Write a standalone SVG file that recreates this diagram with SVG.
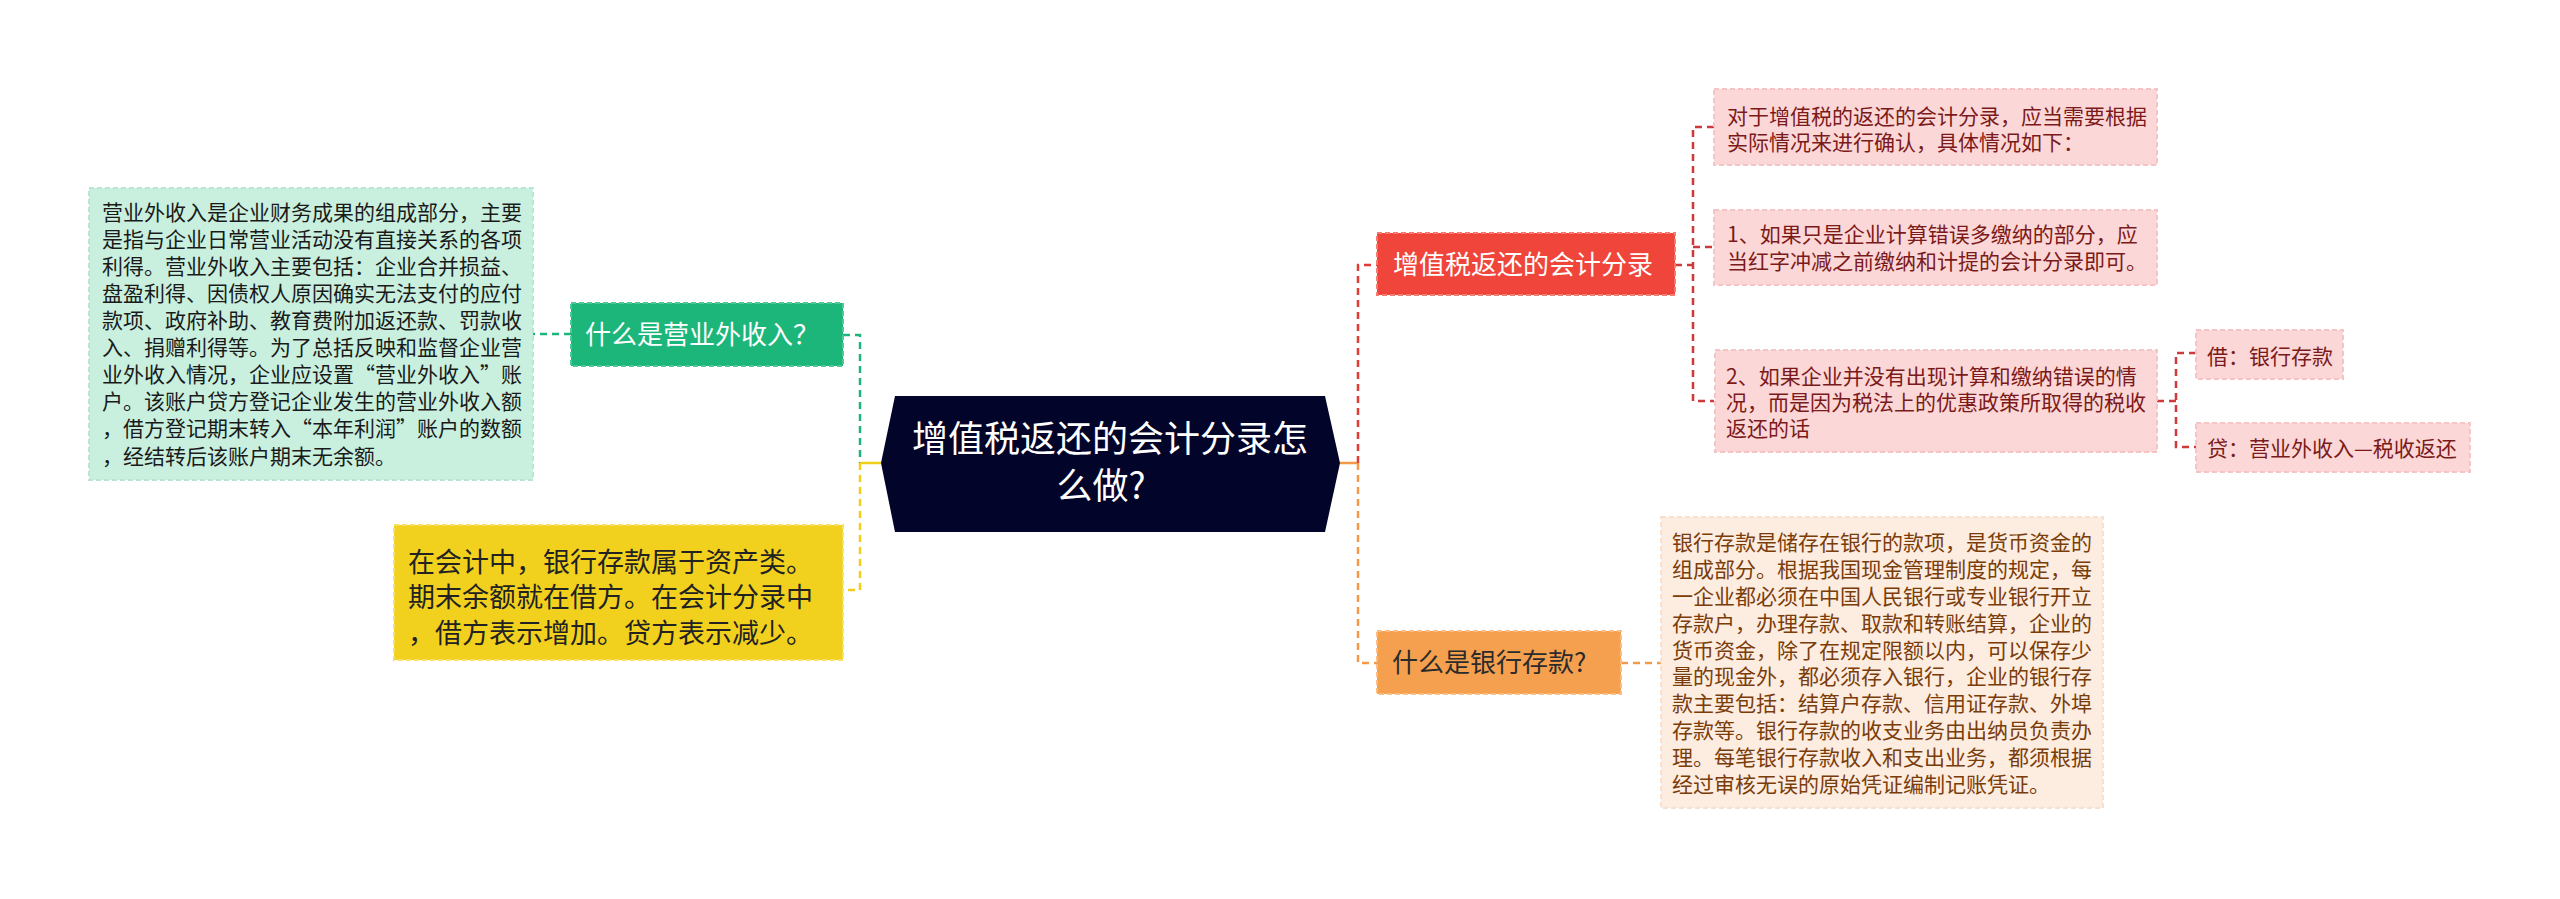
<svg xmlns="http://www.w3.org/2000/svg" width="2560" height="899" viewBox="0 0 2560 899">
<style>
text{font-family:"Noto Sans CJK SC","Noto Sans",sans-serif;}
.t21{font-size:21px;}
.t26{font-size:26px;}
.t27{font-size:27px;}
.c{fill:none;stroke-width:2.5;stroke-dasharray:7 5;}
.box{stroke-width:2;stroke-dasharray:5 3;}
</style>
<rect width="2560" height="899" fill="#ffffff"/>
<g id="connectors">
  <path class="c" stroke="#1db67a" d="M571,334 H533"/>
  <path class="c" stroke="#1db67a" d="M843,335 H860 V463"/>
  <path d="M881,463 H860" stroke="#f0cf1c" stroke-width="2.5" fill="none"/>
  <path class="c" stroke="#f0cf1c" d="M860,463 V590 H843"/>
  <path d="M1340,463 H1358" stroke="#f29a4a" stroke-width="2.5" fill="none"/>
  <path class="c" stroke="#e03b35" d="M1358,463 V265 H1377"/>
  <path class="c" stroke="#f29a4a" d="M1358,463 V663 H1377"/>
  <path class="c" stroke="#f29a4a" d="M1621,663 H1661"/>
  <path class="c" stroke="#d0393a" d="M1675,265 H1693"/>
  <path class="c" stroke="#d0393a" d="M1714,127 H1693 V401 H1714"/>
  <path class="c" stroke="#d0393a" d="M1693,247 H1714"/>
  <path class="c" stroke="#d0393a" d="M2157,401 H2176"/>
  <path class="c" stroke="#d0393a" d="M2196,353 H2176 V447 H2196"/>
</g>
<g id="center">
  <polygon points="895,396 1325,396 1340,463 1325,532 895,532 881,463" fill="#03042a"/>
  <text x="1110" y="452" text-anchor="middle" fill="#ffffff" style="font-size:36px">增值税返还的会计分录怎</text>
  <text x="1101" y="499" text-anchor="middle" fill="#ffffff" style="font-size:36px">么做?</text>
</g>
<g id="n-yingye">
  <rect class="box" x="571" y="303" width="272" height="63" fill="#1db67a" stroke="#4fc895"/>
  <text class="t26" x="585" y="344" fill="#ffffff">什么是营业外收入？</text>
</g>
<g id="n-yingye-detail">
  <rect class="box" x="89" y="188" width="444" height="292" fill="#c9f0df" stroke="#b8e6d2"/>
  <g class="t21" fill="#1a1a1a">
    <text x="102" y="220">营业外收入是企业财务成果的组成部分，主要</text>
    <text x="102" y="247">是指与企业日常营业活动没有直接关系的各项</text>
    <text x="102" y="274">利得。营业外收入主要包括：企业合并损益、</text>
    <text x="102" y="301">盘盈利得、因债权人原因确实无法支付的应付</text>
    <text x="102" y="328">款项、政府补助、教育费附加返还款、罚款收</text>
    <text x="102" y="355">入、捐赠利得等。为了总括反映和监督企业营</text>
    <text x="102" y="382">业外收入情况，企业应设置“营业外收入”账</text>
    <text x="102" y="409">户。该账户贷方登记企业发生的营业外收入额</text>
    <text x="102" y="436">，借方登记期末转入“本年利润”账户的数额</text>
    <text x="102" y="464">，经结转后该账户期末无余额。</text>
  </g>
</g>
<g id="n-yellow">
  <rect class="box" x="394" y="525" width="449" height="135" fill="#f2d11e" stroke="#f7e06a"/>
  <g class="t27" fill="#222222">
    <text x="408" y="572">在会计中，银行存款属于资产类。</text>
    <text x="408" y="607">期末余额就在借方。在会计分录中</text>
    <text x="408" y="643">，借方表示增加。贷方表示减少。</text>
  </g>
</g>
<g id="n-red">
  <rect class="box" x="1377" y="233" width="298" height="62" fill="#f0453a" stroke="#f57a70"/>
  <text class="t26" x="1393" y="274" fill="#ffffff">增值税返还的会计分录</text>
</g>
<g id="n-pink1">
  <rect class="box" x="1714" y="89" width="443" height="76" fill="#fcd7d7" stroke="#f5c4c4"/>
  <g class="t21" fill="#7b1a1a">
    <text x="1727" y="124">对于增值税的返还的会计分录，应当需要根据</text>
    <text x="1727" y="150">实际情况来进行确认，具体情况如下：</text>
  </g>
</g>
<g id="n-pink2">
  <rect class="box" x="1714" y="210" width="443" height="75" fill="#fcd7d7" stroke="#f5c4c4"/>
  <g class="t21" fill="#7b1a1a">
    <text x="1727" y="242">1、如果只是企业计算错误多缴纳的部分，应</text>
    <text x="1727" y="269">当红字冲减之前缴纳和计提的会计分录即可。</text>
  </g>
</g>
<g id="n-pink3">
  <rect class="box" x="1715" y="350" width="442" height="102" fill="#fcd7d7" stroke="#f5c4c4"/>
  <g class="t21" fill="#7b1a1a">
    <text x="1726" y="384">2、如果企业并没有出现计算和缴纳错误的情</text>
    <text x="1726" y="410">况，而是因为税法上的优惠政策所取得的税收</text>
    <text x="1726" y="436">返还的话</text>
  </g>
</g>
<g id="n-jie">
  <rect class="box" x="2196" y="330" width="147" height="49" fill="#fcd7d7" stroke="#f5c4c4"/>
  <text class="t21" x="2207" y="364" fill="#7b1a1a">借：银行存款</text>
</g>
<g id="n-dai">
  <rect class="box" x="2196" y="423" width="274" height="49" fill="#fcd7d7" stroke="#f5c4c4"/>
  <text class="t21" x="2207" y="456" fill="#7b1a1a">贷：营业外收入—税收返还</text>
</g>
<g id="n-orange">
  <rect class="box" x="1377" y="631" width="244" height="63" fill="#f5a04e" stroke="#f8bd80"/>
  <text class="t26" x="1392" y="672" fill="#2b2b2b">什么是银行存款?</text>
</g>
<g id="n-orange-detail">
  <rect class="box" x="1661" y="517" width="442" height="291" fill="#fdece0" stroke="#f8e0cc"/>
  <g class="t21" fill="#7a3d0a">
    <text x="1672" y="550">银行存款是储存在银行的款项，是货币资金的</text>
    <text x="1672" y="577">组成部分。根据我国现金管理制度的规定，每</text>
    <text x="1672" y="604">一企业都必须在中国人民银行或专业银行开立</text>
    <text x="1672" y="631">存款户，办理存款、取款和转账结算，企业的</text>
    <text x="1672" y="658">货币资金，除了在规定限额以内，可以保存少</text>
    <text x="1672" y="684">量的现金外，都必须存入银行，企业的银行存</text>
    <text x="1672" y="711">款主要包括：结算户存款、信用证存款、外埠</text>
    <text x="1672" y="738">存款等。银行存款的收支业务由出纳员负责办</text>
    <text x="1672" y="765">理。每笔银行存款收入和支出业务，都须根据</text>
    <text x="1672" y="792">经过审核无误的原始凭证编制记账凭证。</text>
  </g>
</g>
</svg>
